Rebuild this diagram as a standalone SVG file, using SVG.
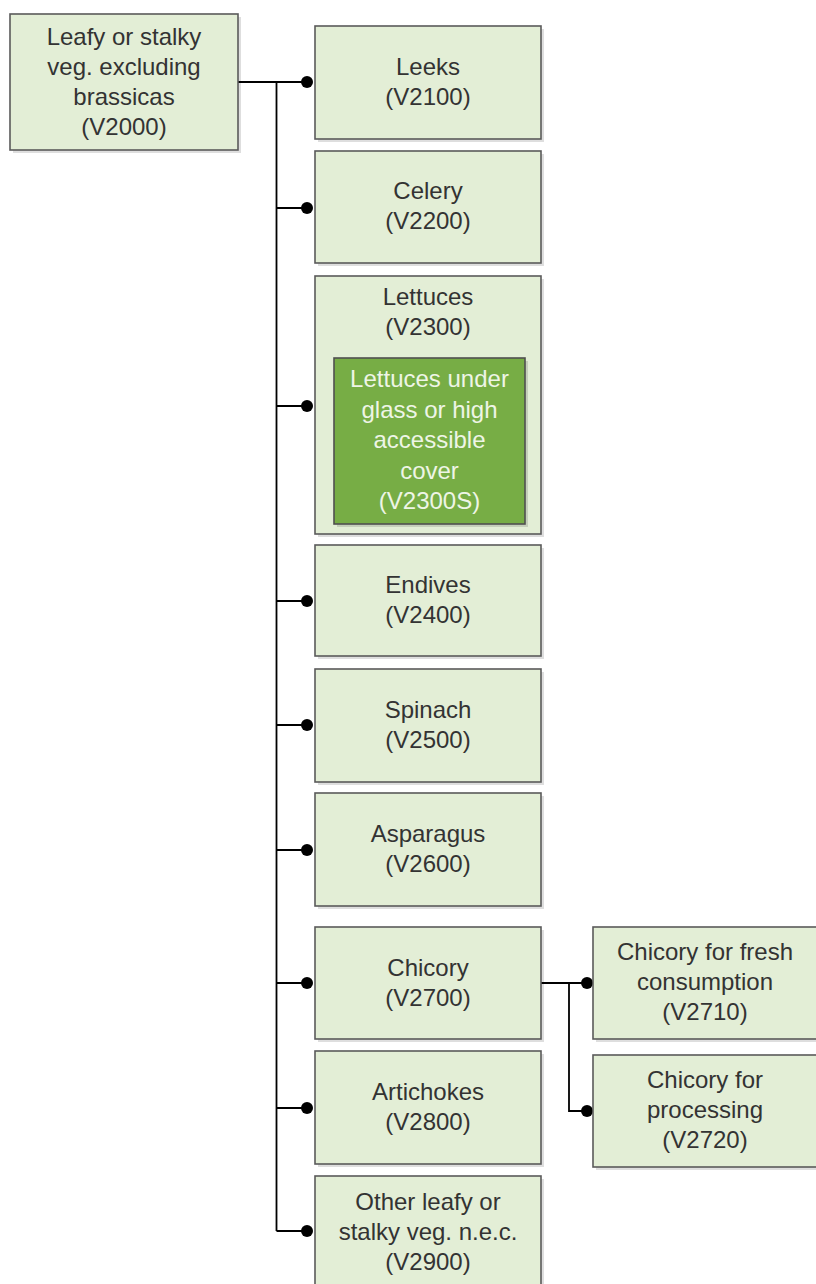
<svg xmlns="http://www.w3.org/2000/svg" width="816" height="1284" viewBox="0 0 816 1284">
<style>
.box{fill:#e3eed6;stroke:#5a5a5a;stroke-width:1.6}
.gbox{fill:#77ad45;stroke:#4f4f4f;stroke-width:1.6}
.sh{fill:#000;opacity:0.13}
.t{font-family:"Liberation Sans",Arial,sans-serif;font-size:24px;fill:#333;text-anchor:middle}
.tw{font-family:"Liberation Sans",Arial,sans-serif;font-size:24px;fill:#eef5e6;text-anchor:middle}
.ln{fill:none;stroke:#000;stroke-width:1.8}
.dot{fill:#000}
</style>
<rect width="816" height="1284" fill="#fff"/>
<g id="connectors">
<path class="ln" d="M238 82H307M276.5 82V1231M276.5 208H307M276.5 406H307M276.5 601H307M276.5 725H307M276.5 850H307M276.5 983H307M276.5 1108H307M276.5 1231H307"/>
<path class="ln" d="M541 983H587M569 983V1111H587"/>
<circle class="dot" cx="307" cy="82" r="6"/>
<circle class="dot" cx="307" cy="208" r="6"/>
<circle class="dot" cx="307" cy="406" r="6"/>
<circle class="dot" cx="307" cy="601" r="6"/>
<circle class="dot" cx="307" cy="725" r="6"/>
<circle class="dot" cx="307" cy="850" r="6"/>
<circle class="dot" cx="307" cy="983" r="6"/>
<circle class="dot" cx="307" cy="1108" r="6"/>
<circle class="dot" cx="307" cy="1231" r="6"/>
<circle class="dot" cx="587" cy="983" r="6"/>
<circle class="dot" cx="587" cy="1111" r="6"/>
</g>
<g id="n-v2000">
<rect class="sh" x="13" y="17" width="228" height="136"/>
<rect class="box" x="10" y="14" width="228" height="136"/>
<text class="t" x="124" y="45">Leafy or stalky</text>
<text class="t" x="124" y="75">veg. excluding</text>
<text class="t" x="124" y="105">brassicas</text>
<text class="t" x="124" y="135">(V2000)</text>
</g>
<g id="n-v2100">
<rect class="sh" x="318" y="29" width="226" height="113"/>
<rect class="box" x="315" y="26" width="226" height="113"/>
<text class="t" x="428" y="75">Leeks</text>
<text class="t" x="428" y="105">(V2100)</text>
</g>
<g id="n-v2200">
<rect class="sh" x="318" y="154" width="226" height="112"/>
<rect class="box" x="315" y="151" width="226" height="112"/>
<text class="t" x="428" y="199">Celery</text>
<text class="t" x="428" y="229">(V2200)</text>
</g>
<g id="n-v2300">
<rect class="sh" x="318" y="279" width="226" height="258"/>
<rect class="box" x="315" y="276" width="226" height="258"/>
<text class="t" x="428" y="305">Lettuces</text>
<text class="t" x="428" y="335">(V2300)</text>
</g>
<g id="n-v2300s">
<rect class="sh" x="337" y="361" width="191" height="166"/>
<rect class="gbox" x="334" y="358" width="191" height="166"/>
<text class="tw" x="429.5" y="387">Lettuces under</text>
<text class="tw" x="429.5" y="418">glass or high</text>
<text class="tw" x="429.5" y="448">accessible</text>
<text class="tw" x="429.5" y="479">cover</text>
<text class="tw" x="429.5" y="509">(V2300S)</text>
</g>
<g id="n-v2400">
<rect class="sh" x="318" y="548" width="226" height="111"/>
<rect class="box" x="315" y="545" width="226" height="111"/>
<text class="t" x="428" y="593">Endives</text>
<text class="t" x="428" y="623">(V2400)</text>
</g>
<g id="n-v2500">
<rect class="sh" x="318" y="672" width="226" height="113"/>
<rect class="box" x="315" y="669" width="226" height="113"/>
<text class="t" x="428" y="718">Spinach</text>
<text class="t" x="428" y="748">(V2500)</text>
</g>
<g id="n-v2600">
<rect class="sh" x="318" y="796" width="226" height="113"/>
<rect class="box" x="315" y="793" width="226" height="113"/>
<text class="t" x="428" y="842">Asparagus</text>
<text class="t" x="428" y="872">(V2600)</text>
</g>
<g id="n-v2700">
<rect class="sh" x="318" y="930" width="226" height="112"/>
<rect class="box" x="315" y="927" width="226" height="112"/>
<text class="t" x="428" y="976">Chicory</text>
<text class="t" x="428" y="1006">(V2700)</text>
</g>
<g id="n-v2800">
<rect class="sh" x="318" y="1054" width="226" height="113"/>
<rect class="box" x="315" y="1051" width="226" height="113"/>
<text class="t" x="428" y="1100">Artichokes</text>
<text class="t" x="428" y="1130">(V2800)</text>
</g>
<g id="n-v2900">
<rect class="sh" x="318" y="1179" width="226" height="113"/>
<rect class="box" x="315" y="1176" width="226" height="113"/>
<text class="t" x="428" y="1210">Other leafy or</text>
<text class="t" x="428" y="1240">stalky veg. n.e.c.</text>
<text class="t" x="428" y="1270">(V2900)</text>
</g>
<g id="n-v2710">
<rect class="sh" x="596" y="930" width="226" height="112"/>
<rect class="box" x="593" y="927" width="226" height="112"/>
<text class="t" x="705" y="960">Chicory for fresh</text>
<text class="t" x="705" y="990">consumption</text>
<text class="t" x="705" y="1020">(V2710)</text>
</g>
<g id="n-v2720">
<rect class="sh" x="596" y="1058" width="226" height="112"/>
<rect class="box" x="593" y="1055" width="226" height="112"/>
<text class="t" x="705" y="1088">Chicory for</text>
<text class="t" x="705" y="1118">processing</text>
<text class="t" x="705" y="1148">(V2720)</text>
</g>
</svg>
